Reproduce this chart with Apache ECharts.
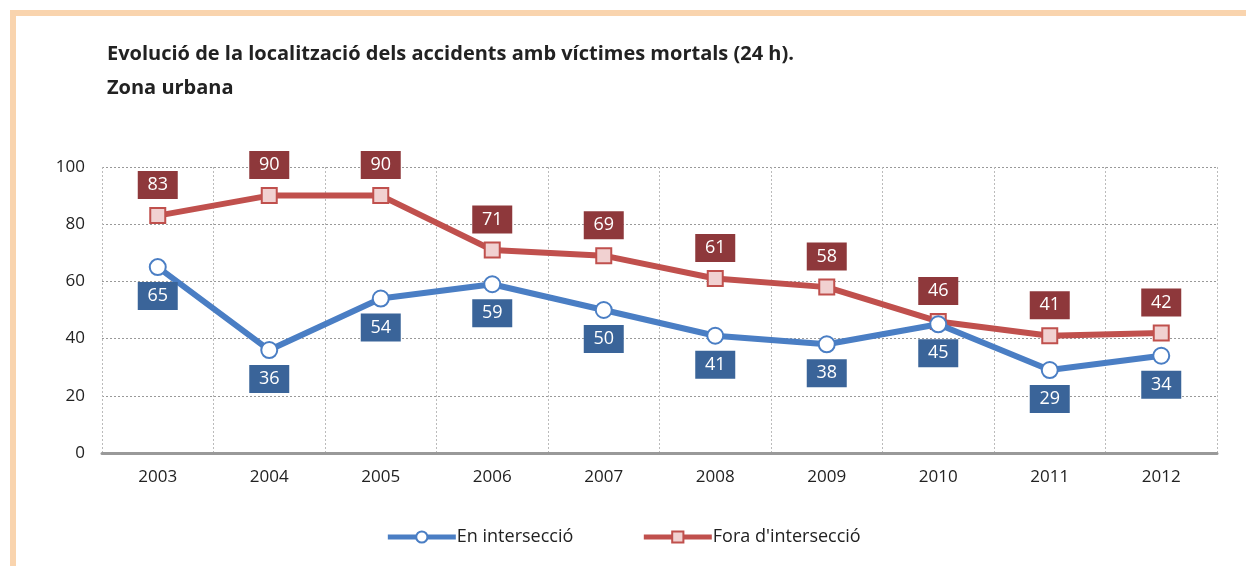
<!DOCTYPE html>
<html style="height: 100%;width: 100%">
<head>
    <meta charset="UTF-8">
    <script type="text/javascript" src="https://cdn.jsdelivr.net/npm/echarts@6/dist/echarts.min.js"></script>
    <title>Zona urbana</title>
    <style>
    body{
        margin: 0;
        background: #fff;
    }
    .frame{
        position: absolute;
        left: 10px;
        top: 10px;
        width: 1236px;
        height: 556px;
        border-top: 6px solid #f9d4ae;
        border-left: 6px solid #f9d4ae;
        box-sizing: border-box;
    }
</style>
</head>
<body>
<div class="frame"></div>
<div id="main" style="position:absolute;left:0;top:0;width: 1246px;height:566px;"></div>
<script type="text/javascript">
    // dades llegides del gràfic
    var years = ['2003','2004','2005','2006','2007','2008','2009','2010','2011','2012'];
    var enInterseccio = [65, 36, 54, 59, 50, 41, 38, 45, 29, 34];
    var foraInterseccio = [83, 90, 90, 71, 69, 61, 58, 46, 41, 42];
    var yTicks = [0, 20, 40, 60, 80, 100];

    var fontFam = '"Open Sans", "Noto Sans", sans-serif';
    var myChart = echarts.init(document.getElementById('main'));

    var option = {
        animation: false,
        title: {
            text: 'Evolució de la localització dels accidents amb víctimes mortals (24 h).\nZona urbana',
            left: 102,
            top: 32,
            textStyle: {
                fontFamily: fontFam,
                fontSize: 20,
                fontWeight: 'bold',
                color: '#222',
                lineHeight: 34
            }
        },
        legend: {
            bottom: 15,
            left: 'center',
            itemWidth: 68,
            itemHeight: 14,
            itemGap: 68,
            lineStyle: {width: 5},
            textStyle: {fontFamily: fontFam, fontSize: 18, color: '#222', padding: [0, 0, 0, -4]},
            data: ['En intersecció', "Fora d'intersecció"]
        },
        grid: {
            left: 102,
            right: 29,
            top: 167,
            bottom: 113
        },
        xAxis: {
            type: 'category',
            data: years,
            boundaryGap: true,
            axisLine: {lineStyle: {color: '#999', width: 3}},
            axisTick: {show: false},
            axisLabel: {fontFamily: fontFam, fontSize: 17, color: '#222', margin: 16},
            splitLine: {show: true, lineStyle: {color: '#bbb', type: [2, 2], width: 1}}
        },
        yAxis: {
            type: 'value',
            min: yTicks[0],
            max: yTicks[yTicks.length - 1],
            interval: 20,
            axisLine: {show: false},
            axisTick: {show: false},
            axisLabel: {fontFamily: fontFam, fontSize: 17, color: '#222', margin: 17},
            splitLine: {show: true, lineStyle: {color: '#999', type: [2, 2], width: 1}}
        },
        series: [
            {
                name: 'En intersecció',
                type: 'line',
                data: enInterseccio,
                symbol: 'circle',
                symbolSize: 16,
                z: 3,
                lineStyle: {color: '#4a7ec4', width: 6},
                itemStyle: {color: '#fff', borderColor: '#4a7ec4', borderWidth: 2},
                label: {
                    show: true,
                    position: 'bottom',
                    distance: 6,
                    color: '#fff',
                    fontFamily: fontFam,
                    fontSize: 18,
                    backgroundColor: '#3a6499',
                    width: 40,
                    height: 28,
                    lineHeight: 28,
                    align: 'center',
                    padding: [0, 0]
                }
            },
            {
                name: "Fora d'intersecció",
                type: 'line',
                data: foraInterseccio,
                symbol: 'rect',
                symbolSize: 15,
                z: 2,
                lineStyle: {color: '#c0504d', width: 6},
                itemStyle: {color: '#f1d1d1', borderColor: '#c0504d', borderWidth: 2},
                label: {
                    show: true,
                    position: 'top',
                    distance: 8,
                    color: '#fff',
                    fontFamily: fontFam,
                    fontSize: 18,
                    backgroundColor: '#8e383b',
                    width: 40,
                    height: 28,
                    lineHeight: 28,
                    align: 'center',
                    padding: [0, 0]
                }
            }
        ]
    };

    myChart.setOption(option);
</script>
</body>
</html>
